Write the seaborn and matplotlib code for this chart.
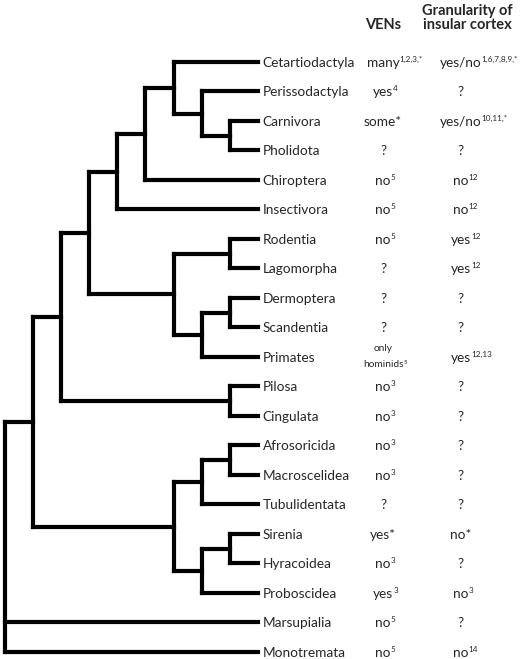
import matplotlib
matplotlib.use("Agg")
import matplotlib.pyplot as plt
import seaborn as sns
import pandas as pd

taxa = ["Cetartiodactyla", "Perissodactyla", "Carnivora", "Pholidota", "Chiroptera",
        "Insectivora", "Rodentia", "Lagomorpha", "Dermoptera", "Scandentia", "Primates",
        "Pilosa", "Cingulata", "Afrosoricida", "Macroscelidea", "Tubulidentata",
        "Sirenia", "Hyracoidea", "Proboscidea", "Marsupialia", "Monotremata"]

# clades as (branching level, members); leaves end at leaf_level
tree = (0, [(1, [(2, [(3, [(4, [(5, [(6, ["Cetartiodactyla",
                                           (7, ["Perissodactyla",
                                                (8, ["Carnivora", "Pholidota"])])]),
                                     "Chiroptera"]),
                                "Insectivora"]),
                           (6, [(8, ["Rodentia", "Lagomorpha"]),
                                (7, [(8, ["Dermoptera", "Scandentia"]), "Primates"])])]),
                      (8, ["Pilosa", "Cingulata"])]),
                 (6, [(7, [(8, ["Afrosoricida", "Macroscelidea"]), "Tubulidentata"]),
                      (7, [(8, ["Sirenia", "Hyracoidea"]), "Proboscidea"])])]),
            "Marsupialia", "Monotremata"])
leaf_level = 9

ven = ["many", "yes", "some*", "?", "no", "no", "no", "?", "?", "?", "only hominids",
       "no", "no", "no", "no", "?", "yes*", "no", "yes", "no", "no"]
ven_ref = ["1,2,3,*", "4", "", "", "5", "5", "5", "", "", "", "5",
           "3", "3", "3", "3", "", "", "3", "3", "5", "5"]
gran = ["yes/no", "?", "yes/no", "?", "no", "no", "yes", "yes", "?", "?", "yes",
        "?", "?", "?", "?", "?", "no*", "?", "no", "?", "no"]
gran_ref = ["1,6,7,8,9,*", "", "10,11,*", "", "12", "12", "12", "12", "", "", "12,13",
            "", "", "", "", "", "", "", "3", "", "14"]

sns.set_style("white")
plt.rcParams["font.family"] = ["Lato", "DejaVu Sans"]

# build the cladogram as elbow segments
segs = []


def walk(node):
    if isinstance(node, str):
        return taxa.index(node), leaf_level
    level, kids = node
    pos = [walk(k) for k in kids]
    for y, lv in pos:
        segs.append([(level, y), (lv, y)])
    ys = [p[0] for p in pos]
    segs.append([(level, min(ys)), (level, max(ys))])
    return (min(ys) + max(ys)) / 2, level


walk(tree)
rows = []
for i, s in enumerate(segs):
    for x, y in s:
        rows.append({"seg": i, "x": x, "y": y})
df = pd.DataFrame(rows)

fig = plt.figure(figsize=(5.2, 6.59), dpi=100)
ax = fig.add_axes([0, 0, 1, 1])
sns.lineplot(data=df, x="x", y="y", units="seg", estimator=None, sort=False,
             color="black", linewidth=3.0, solid_capstyle="projecting", ax=ax)

fs = 9.8
col_ven, col_gran = 13.44, 16.2


def put(x, y, base, ref, size):
    # base word centred on the column, reference numbers hang to the right
    t = ax.text(x, y, base, fontsize=size, ha="center", va="center_baseline")
    if ref:
        ax.annotate(ref, xy=(1, 0.6), xycoords=t, xytext=(0, 0),
                    textcoords="offset points", fontsize=size * 0.6,
                    ha="left", va="baseline")


for i, name in enumerate(taxa):
    ax.text(leaf_level + 0.16, i, name, fontsize=fs, va="center_baseline", ha="left")
    if " " in ven[i]:
        top, bottom = ven[i].split(" ")
        put(col_ven, i - 0.32, top, "", 7.3)
        put(col_ven, i + 0.22, bottom, ven_ref[i], 7.3)
    else:
        put(col_ven, i, ven[i], ven_ref[i], fs)
    put(col_gran, i, gran[i], gran_ref[i], fs)

ax.text(col_ven, -1.29, "VENs", fontsize=10.5, fontweight="bold",
        ha="center", va="center_baseline")
ax.text(16.42, -1.1, "Granularity of\ninsular cortex", fontsize=10.5, fontweight="bold",
        ha="center", va="baseline", linespacing=1.05)

ax.set_xlim(-0.16, 18.3)
ax.set_ylim(20.24, -2.1)
ax.axis("off")
fig.savefig("out.png", dpi=100, facecolor="white")
